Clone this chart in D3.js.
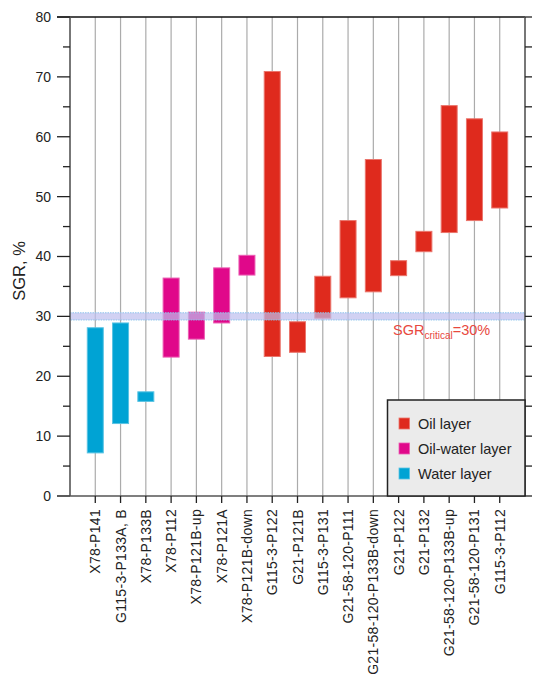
<!DOCTYPE html>
<html><head><meta charset="utf-8">
<script src="https://cdn.jsdelivr.net/npm/d3@7"></script>
<style>body{margin:0;background:#fff;}svg{display:block;font-family:"Liberation Sans",Arial,sans-serif;}</style>
</head><body>
<svg id="c" width="533" height="676"></svg>
<script>
const categories = ["X78-P141","G115-3-P133A, B","X78-P133B","X78-P112","X78-P121B-up","X78-P121A","X78-P121B-down","G115-3-P122","G21-P121B","G115-3-P131","G21-58-120-P111","G21-58-120-P133B-down","G21-P122","G21-P132","G21-58-120-P133B-up","G21-58-120-P131","G115-3-P112"];
const lowValues  = [7.2, 12.1, 15.8, 23.2, 26.2, 28.9, 36.9, 23.3, 24.0, 29.7, 33.1, 34.1, 36.8, 40.8, 44.0, 46.0, 48.1];
const highValues = [28.1, 28.9, 17.4, 36.4, 30.7, 38.1, 40.2, 70.9, 29.1, 36.7, 46.0, 56.2, 39.3, 44.2, 65.2, 63.0, 60.8];
const layerTypes = ["Water layer","Water layer","Water layer","Oil-water layer","Oil-water layer","Oil-water layer","Oil-water layer","Oil layer","Oil layer","Oil layer","Oil layer","Oil layer","Oil layer","Oil layer","Oil layer","Oil layer","Oil layer"];
const legendLabels = ["Oil layer","Oil-water layer","Water layer"];
const legendColors = ["#df2a1d","#e0088a","#00a3d4"];
const yTicks = [0,10,20,30,40,50,60,70,80];
const criticalValue = 30;
const criticalBand = [29.4, 30.6];

const svg = d3.select("#c");
const L = 70, R = 525, T = 17, B = 496;
const x = d3.scalePoint().domain(categories).range([L, R]).padding(1);
const y = d3.scaleLinear().domain([0, 80]).range([B, T]);
const color = d3.scaleOrdinal().domain(legendLabels).range(legendColors);
const lighter = c => d3.interpolateRgb(c, "#fff")(0.35);
const minor = d3.range(0, 81, 5);

// vertical grid lines
svg.append("g").selectAll("line").data(categories).join("line")
  .attr("x1", d => x(d)).attr("x2", d => x(d)).attr("y1", T).attr("y2", B)
  .attr("stroke", "#ababab").attr("stroke-width", 1.2);

// bars
const bw = 16;
svg.append("g").selectAll("rect").data(categories).join("rect")
  .attr("x", d => x(d) - bw / 2)
  .attr("width", bw)
  .attr("y", (d, i) => y(highValues[i]))
  .attr("height", (d, i) => y(lowValues[i]) - y(highValues[i]))
  .attr("fill", (d, i) => color(layerTypes[i]))
  .attr("stroke", (d, i) => lighter(color(layerTypes[i])))
  .attr("stroke-width", 1);

// critical band
svg.append("rect")
  .attr("x", L).attr("width", R - L)
  .attr("y", y(criticalBand[1])).attr("height", y(criticalBand[0]) - y(criticalBand[1]))
  .attr("fill", "rgba(190,190,238,0.7)")
  .attr("stroke", "#8ec4ec").attr("stroke-width", 1).attr("stroke-dasharray", "1.5,1");

// critical label
const lab = svg.append("text").attr("x", 393).attr("y", 335)
  .attr("fill", "#e8483e").attr("font-size", 14.5);
lab.append("tspan").text("SGR");
lab.append("tspan").attr("font-size", 10).attr("dy", 4).text("critical");
lab.append("tspan").attr("dy", -4).text("=" + criticalValue + "%");

// top border
svg.append("line").attr("x1", L - 13).attr("x2", R).attr("y1", y(80)).attr("y2", y(80))
  .attr("stroke", "#111").attr("stroke-width", 1.3);

// left axis
const gl = svg.append("g").attr("transform", `translate(${L},0)`);
gl.append("line").attr("y1", T).attr("y2", B).attr("stroke", "#555").attr("stroke-width", 1.6);
gl.selectAll(".mn").data(minor).join("line")
  .attr("x1", 0).attr("x2", d => d % 10 === 0 ? -13 : -7)
  .attr("y1", d => y(d)).attr("y2", d => y(d))
  .attr("stroke", "#222").attr("stroke-width", 1.3);
gl.selectAll("text").data(yTicks).join("text")
  .attr("x", -19).attr("y", d => y(d)).attr("dy", "0.35em")
  .attr("text-anchor", "end").attr("font-size", 14).attr("fill", "#222")
  .text(d => d);

// right axis
const gr = svg.append("g").attr("transform", `translate(${R},0)`);
gr.append("line").attr("y1", T).attr("y2", B).attr("stroke", "#555").attr("stroke-width", 1.6);
gr.selectAll(".mn").data(minor).join("line")
  .attr("x1", 0).attr("x2", 7)
  .attr("y1", d => y(d)).attr("y2", d => y(d))
  .attr("stroke", "#222").attr("stroke-width", 1.3);

// bottom axis
const gb = svg.append("g").attr("transform", `translate(0,${B})`);
gb.append("line").attr("x1", L - 13).attr("x2", R).attr("stroke", "#555").attr("stroke-width", 1.6);
gb.selectAll(".tk").data(categories).join("line")
  .attr("x1", d => x(d)).attr("x2", d => x(d)).attr("y1", 0).attr("y2", 7)
  .attr("stroke", "#222").attr("stroke-width", 1.3);
gb.selectAll("text").data(categories).join("text")
  .attr("transform", d => `translate(${x(d)},13) rotate(-90)`)
  .attr("text-anchor", "end").attr("dy", "0.36em")
  .attr("font-size", 14).attr("letter-spacing", 0.3).attr("fill", "#222")
  .text(d => d);

// y title
svg.append("text").attr("transform", "translate(25,271) rotate(-90)")
  .attr("text-anchor", "middle").attr("font-size", 16.5).attr("fill", "#222")
  .text("SGR, %");

// legend
const lg = svg.append("g");
lg.append("rect").attr("x", 387.5).attr("y", 400).attr("width", R - 387.5).attr("height", B - 400)
  .attr("fill", "#ebebeb").attr("stroke", "#222").attr("stroke-width", 1.5);
const items = lg.selectAll(".it").data(legendLabels).join("g")
  .attr("transform", (d, i) => `translate(399,${423.5 + i * 25})`);
items.append("rect").attr("x", 0).attr("y", -5.5).attr("width", 10.5).attr("height", 11)
  .attr("fill", d => color(d)).attr("stroke", d => lighter(color(d))).attr("stroke-width", 0.8);
items.append("text").attr("x", 19).attr("dy", "0.35em").attr("font-size", 14.5).attr("fill", "#222")
  .text(d => d);
</script>
</body></html>
